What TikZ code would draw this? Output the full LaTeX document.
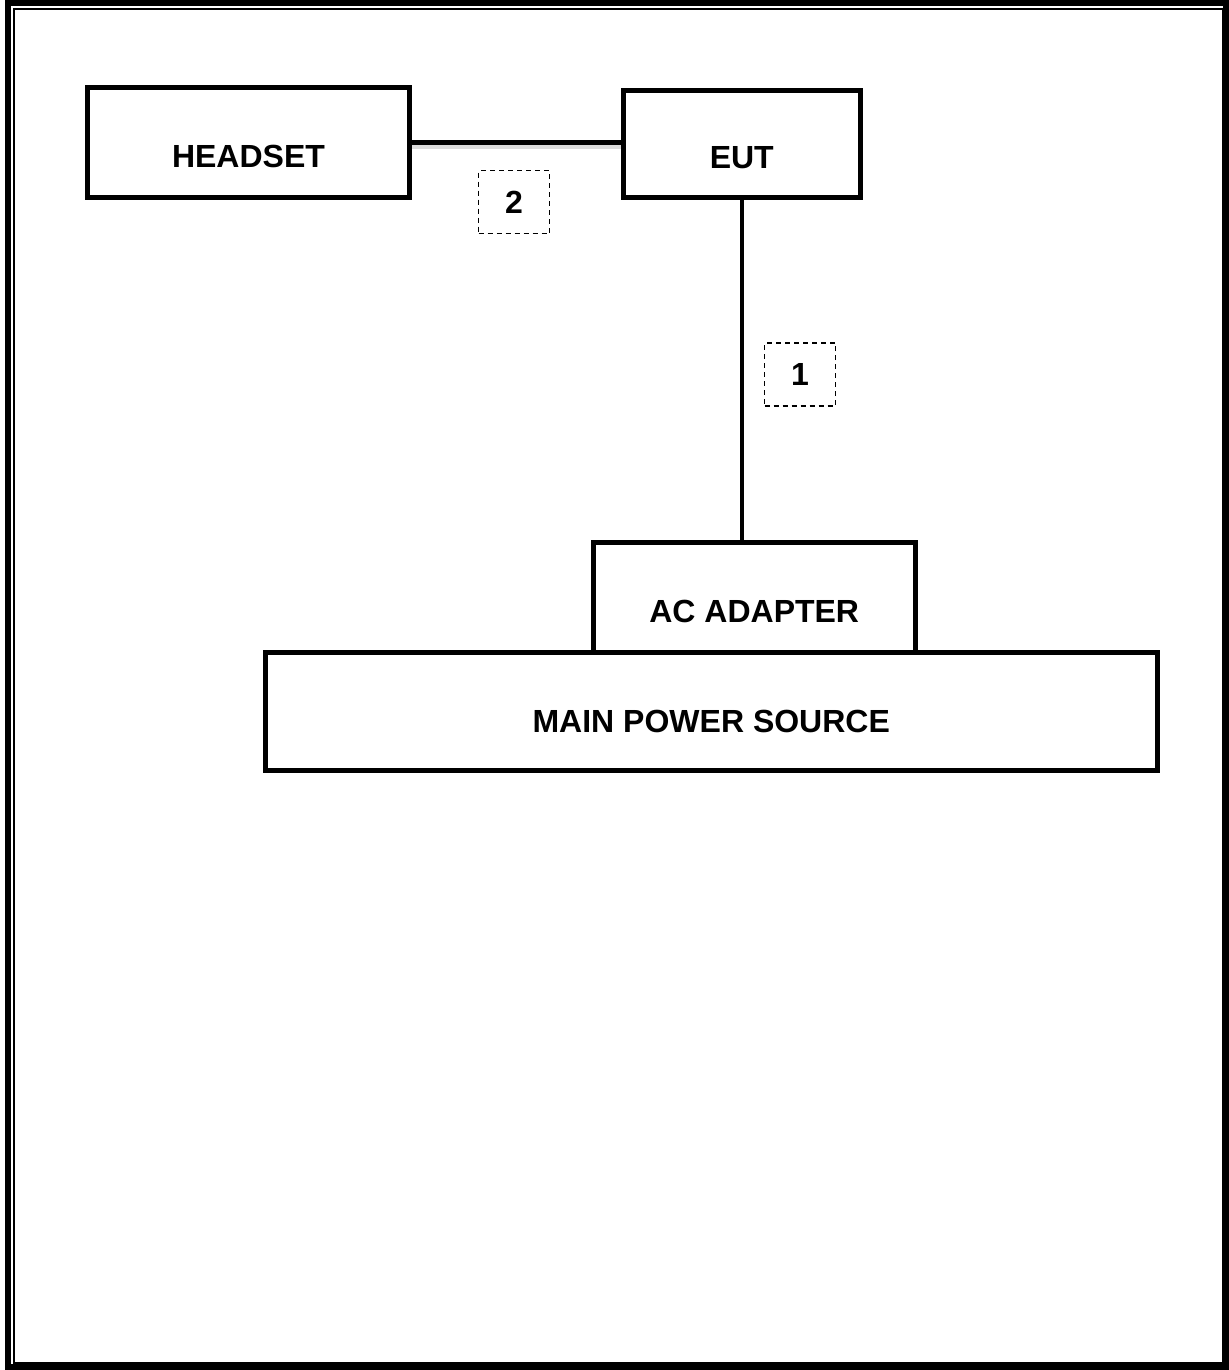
\documentclass[tikz,border=0pt]{standalone}
\usepackage{fontspec}
\setmainfont{Liberation Sans}
\usepackage{tikz}

\begin{document}
\begin{tikzpicture}[
    x=0.5pt, y=-0.5pt,
    font=\fontsize{16pt}{19pt}\selectfont\bfseries,
    unit/.style={draw, line width=2.5pt, inner sep=0pt, align=center,
      text height=25pt, text depth=0pt},
    tag/.style={draw, dashed, dash pattern=on 2.5pt off 2pt, line width=0.75pt,
      minimum width=35.5pt, minimum height=31.5pt, inner sep=0pt},
    wire/.style={line width=2.2pt},
    wireshadow/.style={line width=2.5pt, black!14}
  ]
    \useasboundingbox (0,0) rectangle (1228,1370);

    % page frame
    \draw[line width=3pt] (8,3) rectangle (1226,1367);
    \draw[line width=1pt] (14,9) rectangle (1223,1363);

    \node[unit, minimum width=161pt, minimum height=55pt] (headset) at (248.5,142.5) {HEADSET};
    \node[unit, minimum width=118.75pt, minimum height=53.25pt] (eut) at (741.75,143.75) {EUT};
    \node[unit, minimum width=160.75pt, minimum height=55.25pt] (adapter) at (754.25,597.25) {AC ADAPTER};
    \node[unit, minimum width=445.75pt, minimum height=59pt, text height=20.5pt] (mains) at (711.25,711.5)
      {MAIN POWER SOURCE};

    \node[tag] (tag2) at (514,202) {2};
    \node[tag] (tag1) at (800,374.5) {1};

    \draw[wireshadow] ([yshift=-2pt]headset.east) -- ([yshift=-2pt]headset.east -| eut.west);
    \draw[wire] (headset.east) -- (headset.east -| eut.west);
    \draw[wire] (eut.south) -- (eut.south |- adapter.north);
  \end{tikzpicture}
\end{document}
